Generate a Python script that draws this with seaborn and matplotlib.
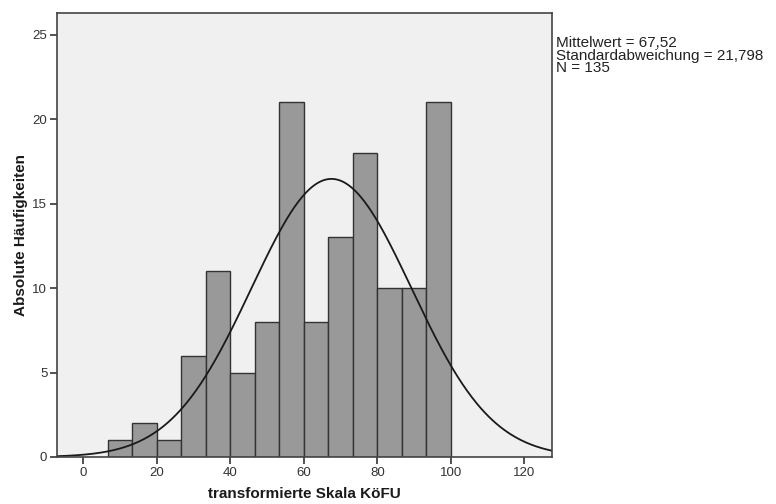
import numpy as np
import pandas as pd
import matplotlib
matplotlib.use("Agg")
import matplotlib.pyplot as plt
import seaborn as sns

# --- data ---
bin_edges = [100 / 15 * k for k in range(1, 16)]
counts = [1, 2, 1, 6, 11, 5, 8, 21, 8, 13, 18, 10, 10, 21]
mean_val = 67.52
sd_val = 21.798
n_total = 135
stats_lines = ["Mittelwert = 67,52", "Standardabweichung = 21,798", "N = 135"]
x_ticks = [0, 20, 40, 60, 80, 100, 120]
y_ticks = [0, 5, 10, 15, 20, 25]

sns.set_style("white")
plt.rcParams["font.family"] = ["Liberation Sans", "DejaVu Sans"]

centers = [(a + b) / 2 for a, b in zip(bin_edges[:-1], bin_edges[1:])]
df = pd.DataFrame({"wert": centers, "n": counts})

fig = plt.figure(figsize=(7.76, 5.04), dpi=100)
ax = fig.add_axes([0.0735, 0.0933, 0.6375, 0.881])
ax.set_facecolor("#f0f0f0")

sns.histplot(data=df, x="wert", weights="n", bins=bin_edges, ax=ax,
             color="#999999", alpha=1.0, edgecolor="#333333", linewidth=1.0)

# normal curve from mean / sd, scaled to counts
bw = bin_edges[1] - bin_edges[0]
xs = np.linspace(-8, 128, 400)
ys = n_total * bw / (sd_val * np.sqrt(2 * np.pi)) * np.exp(-0.5 * ((xs - mean_val) / sd_val) ** 2)
sns.lineplot(x=xs, y=ys, ax=ax, color="#1a1a1a", linewidth=1.3)

ax.set_xlim(-7.2, 127.5)
ax.set_ylim(0, 26.3)
ax.set_xticks(x_ticks)
ax.set_yticks(y_ticks)
ax.tick_params(axis="both", which="major", bottom=True, left=True, direction="out",
               length=5, width=1.2, colors="#333333", labelcolor="#333333",
               labelsize=9.5, pad=2)
for sp in ax.spines.values():
    sp.set_color("#444444")
    sp.set_linewidth(1.2)

ax.set_xlabel("transformierte Skala KöFU", fontsize=11, fontweight="bold", color="#1a1a1a",
              labelpad=6)
ax.set_ylabel("Absolute Häufigkeiten", fontsize=11, fontweight="bold", color="#1a1a1a",
              labelpad=3)

fig.text(0.717, 0.928, "\n".join(stats_lines), fontsize=11, va="top", ha="left",
         color="#222222", linespacing=0.85)

fig.savefig("out.png", dpi=100)
